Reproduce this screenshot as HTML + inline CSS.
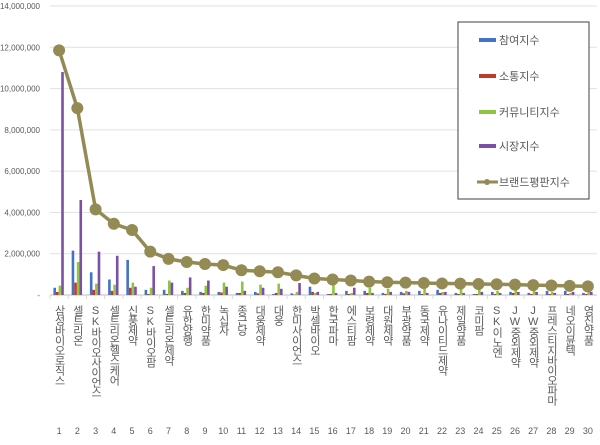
<!DOCTYPE html>
<html><head><meta charset="utf-8"><style>
body{margin:0;background:#fff;}
svg text{font-family:"Liberation Sans","Noto Sans CJK KR",sans-serif;fill:#595959;}
</style></head><body>
<svg id="chart" width="600" height="440" xmlns="http://www.w3.org/2000/svg">
<g id="grid"></g>
<g id="yaxis"></g>
<g id="bars"></g>
<g id="line"></g>
<g id="xaxis"></g>
<g id="legend">
<rect x="458" y="22" width="131" height="177" fill="#fff" stroke="#404040" stroke-width="1"/>
<rect x="479" y="38" width="17" height="4" fill="#4472c4"/>
<text x="499" y="44" font-size="11">참여지수</text>
<rect x="479" y="74" width="17" height="4" fill="#c0392b"/>
<text x="499" y="80" font-size="11">소통지수</text>
<rect x="479" y="110" width="17" height="4" fill="#8dc63f"/>
<text x="499" y="116" font-size="11">커뮤니티지수</text>
<rect x="479" y="144" width="17" height="4" fill="#7b4fa6"/>
<text x="499" y="150" font-size="11">시장지수</text>
<line x1="477" y1="182" x2="498" y2="182" stroke="#948a54" stroke-width="3"/>
<circle cx="487" cy="182" r="3" fill="#948a54"/>
<text x="499" y="186" font-size="11">브랜드평판지수</text>
</g>
</svg>
<script>
const categories=["삼성바이오로직스","셀트리온","SK바이오사이언스","셀트리온헬스케어","신풍제약","SK바이오팜","셀트리온제약","유한양행","한미약품","녹십자","종근당","대웅제약","대웅","한미사이언스","박셀바이오","한국파마","에스티팜","보령제약","대원제약","부광약품","동국제약","유나이티드제약","제일약품","코미팜","JW중외제약","동화약품","JW중외제약","프레스티지바이오파마","네오이뮨텍","영진약품"];
categories[24]="SK이노엔";categories[25]="JW중외제약";
const participation=[0.35,2.15,1.1,0.75,1.7,0.25,0.25,0.2,0.15,0.15,0.1,0.15,0.05,0.08,0.4,0.05,0.2,0.2,0.1,0.15,0.2,0.25,0.1,0.05,0.15,0.15,0.1,0.2,0.2,0.1];
const communication=[0.15,0.6,0.25,0.2,0.35,0.05,0.05,0.1,0.1,0.12,0.1,0.08,0.1,0.02,0.15,0.05,0.05,0.1,0.05,0.08,0.05,0.1,0.05,0.05,0.05,0.1,0.05,0.05,0.05,0.05];
const community=[0.45,1.6,0.55,0.5,0.6,0.35,0.7,0.35,0.45,0.6,0.65,0.5,0.55,0.15,0.1,0.5,0.1,0.35,0.3,0.2,0.3,0.15,0.55,0.3,0.2,0.3,0.3,0.15,0.1,0.15];
const market=[10.8,4.6,2.1,1.9,0.4,1.4,0.6,0.85,0.7,0.4,0.2,0.35,0.3,0.58,0.15,0.1,0.35,0.1,0.15,0.15,0.1,0.15,0.1,0.15,0.1,0.15,0.15,0.1,0.15,0.15];
const brand=[11.85,9.05,4.15,3.45,3.15,2.1,1.75,1.6,1.5,1.45,1.2,1.15,1.1,0.95,0.8,0.75,0.7,0.65,0.62,0.6,0.58,0.56,0.55,0.53,0.52,0.5,0.48,0.46,0.44,0.42];
const yTicks=[0,2,4,6,8,10,12,14];
const yTickLabels=["-","2,000,000","4,000,000","6,000,000","8,000,000","10,000,000","12,000,000","14,000,000"];
const ns="http://www.w3.org/2000/svg";
const X0=50,X1=597,Y0=295,Y1=6,YMAX=14;
const step=(X1-X0)/categories.length;
const xc=i=>X0+step*(i+0.5);
const y=v=>Y0-(v/YMAX)*(Y0-Y1);
function mk(tag,attrs,parent){const e=document.createElementNS(ns,tag);for(const k in attrs)e.setAttribute(k,attrs[k]);parent.appendChild(e);return e;}
const grid=document.getElementById('grid'),yaxis=document.getElementById('yaxis');
yTicks.forEach((t,i)=>{
 const l=mk('line',{x1:X0,x2:X1,y1:y(t),y2:y(t),stroke:i===0?'#bfbfbf':'#e0e0e0','stroke-width':1},grid);
 
 
 const tx=mk('text',{x:40,y:y(t)+3,'font-size':'8','text-anchor':'end'},yaxis);
 tx.textContent=yTickLabels[i];
 
 
});
const bars=document.getElementById('bars');
const series=[[participation,'#4472c4','participation'],[communication,'#c0392b','communication'],[community,'#8dc63f','community'],[market,'#7b4fa6','market']];
const bw=2.6;
categories.forEach((c,i)=>{
 series.forEach((s,j)=>{
  const v=s[0][i];
  const bx=xc(i)-2*bw+j*bw-0.5;
  const r=mk('rect',{x:bx,y:y(v),width:bw,height:Y0-y(v),fill:s[1]},bars);
  
  
 });
});
const lg=document.getElementById('line');
const pl=mk('polyline',{points:brand.map((v,i)=>xc(i)+','+y(v)).join(' '),fill:'none',stroke:'#948a54','stroke-width':3.5},lg);


brand.forEach((v,i)=>{
 const c=mk('circle',{cx:xc(i),cy:y(v),r:6,fill:'#948a54'},lg);
 
 
});
const xa=document.getElementById('xaxis');
categories.forEach((c,i)=>{
 const tk=mk('line',{x1:X0+step*i,x2:X0+step*i,y1:Y0,y2:Y0+4,stroke:'#d9d9d9'},xa);
 
 
 const t=mk('text',{x:xc(i),y:Y0+10,'font-size':'11','writing-mode':'vertical-rl','glyph-orientation-vertical':'0'},xa);
 t.setAttribute('style','writing-mode:vertical-rl;text-orientation:upright;letter-spacing:-1px');
 t.textContent=c;
 
 
 const n=mk('text',{x:xc(i),y:434,'font-size':'9','text-anchor':'middle'},xa);
 n.textContent=String(i+1);
 
 
});
</script>
</body></html>
